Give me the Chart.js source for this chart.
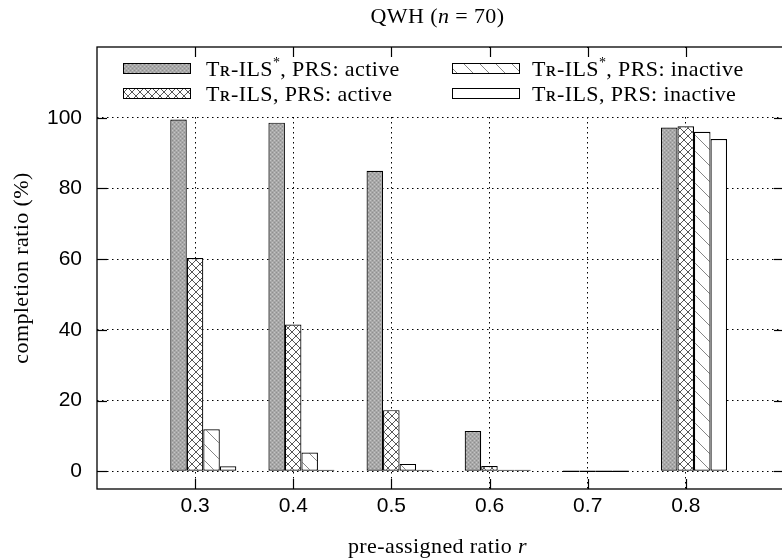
<!DOCTYPE html>
<html>
<head>
<meta charset="utf-8">
<script src="https://cdn.jsdelivr.net/npm/chart.js@4.4.0/dist/chart.umd.min.js"></script>
<style>
html, body { margin: 0; padding: 0; background: #fff; overflow: hidden; }
</style>
</head>
<body>
<canvas id="myChart" width="800" height="559"></canvas>
<script>
var ratios = [0.3, 0.4, 0.5, 0.6, 0.7, 0.8];
var xTicks = [0.3, 0.4, 0.5, 0.6, 0.7, 0.8];
var yTicks = [0, 20, 40, 60, 80, 100];
var seriesLabels = ['Tʀ-ILS*, PRS: active', 'Tʀ-ILS, PRS: active', 'Tʀ-ILS*, PRS: inactive', 'Tʀ-ILS, PRS: inactive'];
var starActive = [99.5, 98.6, 85.0, 11.4, 0, 97.2];
var plainActive = [60.3, 41.5, 17.3, 1.5, 0, 97.6];
var starInactive = [11.9, 5.3, 2.1, 0.3, 0, 96.0];
var plainInactive = [1.4, 0.3, 0.2, 0.1, 0, 94.0];

var SERIF = '"Liberation Serif", "DejaVu Serif", serif';
var SANS = '"Liberation Sans", Arial, sans-serif';
var barShift = 0.0083; // 2nd bar of each group sits on the tick

var ctx = document.getElementById('myChart').getContext('2d');

function makePattern(size, draw) {
	var c = document.createElement('canvas');
	c.width = size; c.height = size;
	var g = c.getContext('2d');
	g.fillStyle = '#fff';
	g.fillRect(0, 0, size, size);
	draw(g, size);
	return ctx.createPattern(c, 'repeat');
}
var grayFill = makePattern(4, function(g) {
	g.fillStyle = '#a8a8a8'; g.fillRect(0, 0, 4, 4);
	g.fillStyle = '#8e8e8e'; g.fillRect(0, 0, 1, 1); g.fillRect(2, 2, 1, 1);
	g.fillStyle = '#c4c4c4'; g.fillRect(2, 0, 1, 1); g.fillRect(0, 2, 1, 1);
});
var crossFill = makePattern(8, function(g) {
	g.strokeStyle = '#444'; g.lineWidth = 0.9;
	g.beginPath();
	g.moveTo(-1, -1); g.lineTo(9, 9);
	g.moveTo(9, -1); g.lineTo(-1, 9);
	g.stroke();
});
var diagFill = makePattern(16, function(g) {
	g.strokeStyle = '#777'; g.lineWidth = 0.9;
	g.beginPath(); g.moveTo(-1, -1); g.lineTo(17, 17); g.stroke();
});
var fills = [grayFill, crossFill, diagFill, '#ffffff'];
var series = [starActive, plainActive, starInactive, plainInactive];

var datasets = [];
for (var k = 0; k < series.length; k++) {
	var pts = [];
	for (var i = 0; i < ratios.length; i++) {
		pts.push({x: ratios[i], y: series[k][i]});
	}
	datasets.push({
		label: seriesLabels[k],
		data: pts,
		backgroundColor: fills[k],
		borderColor: '#000',
		borderWidth: 1.2,
		borderSkipped: false,
		minBarLength: 1.5,
		xAxisID: 'xb',
		categoryPercentage: 0.673,
		barPercentage: 1.0
	});
}

function drawRich(c, parts, x, y, align) {
	var total = 0;
	c.letterSpacing = '0.4px';
	parts.forEach(function(p) { c.font = p.font; p.w = c.measureText(p.t).width; total += p.w; });
	var cx = align === 'center' ? x - total / 2 : x;
	c.textAlign = 'left';
	parts.forEach(function(p) { c.font = p.font; c.fillText(p.t, cx, y + (p.dy || 0)); cx += p.w; });
	c.letterSpacing = '0px';
}

function labelParts(label) {
	var f = '22px ' + SERIF;
	var idx = label.indexOf('*');
	if (idx < 0) return [{t: label, font: f}];
	return [
		{t: label.slice(0, idx), font: f},
		{t: '*', font: '14px ' + SERIF, dy: -7},
		{t: label.slice(idx + 1), font: f}
	];
}

function line(c, x1, y1, x2, y2) {
	c.beginPath(); c.moveTo(x1, y1); c.lineTo(x2, y2); c.stroke();
}

var framePlugin = {
	id: 'frame',
	afterDatasetsDraw: function(chart) {
		var c = chart.ctx, a = chart.chartArea;
		c.save();
		c.fillStyle = '#fff';
		c.fillRect(a.left + 1, a.top + 1, a.right - a.left - 2, 113 - a.top);
		// legend, column-wise order
		var order = [[0, 123, 68], [2, 452, 68], [1, 123, 93], [3, 452, 93]];
		order.forEach(function(o) {
			var ds = chart.data.datasets[o[0]];
			c.fillStyle = ds.backgroundColor;
			c.fillRect(o[1], o[2] - 5, 67, 10);
			c.strokeStyle = '#000'; c.lineWidth = 1;
			c.strokeRect(o[1] + 0.5, o[2] - 5 + 0.5, 67, 10);
			c.fillStyle = '#000';
			c.textBaseline = 'middle';
			drawRich(c, labelParts(ds.label), o[1] + (o[1] > 300 ? 80 : 83), o[2] + 2, 'left');
		});
		c.restore();
	},
	afterDraw: function(chart) {
		var c = chart.ctx, a = chart.chartArea;
		var ys = chart.scales.y, xs = chart.scales.x;
		c.save();
		c.strokeStyle = '#000';
		c.lineWidth = 1.3;
		c.strokeRect(a.left, a.top, a.right - a.left, a.bottom - a.top);
		c.lineWidth = 1.2;
		yTicks.forEach(function(v) {
			var p = Math.round(ys.getPixelForValue(v)) + 0.5;
			line(c, a.left, p, a.left + 10, p);
			line(c, a.right, p, a.right - 10, p);
		});
		xTicks.forEach(function(v) {
			var p = Math.round(xs.getPixelForValue(v)) + 0.5;
			line(c, p, a.bottom, p, a.bottom - 10);
			line(c, p, a.top, p, a.top + 10);
		});
		// titles
		c.fillStyle = '#000';
		c.textBaseline = 'middle';
		var mid = (a.left + a.right) / 2 - 3;
		drawRich(c, [
			{t: 'QWH (', font: '22px ' + SERIF},
			{t: 'n', font: 'italic 22px ' + SERIF},
			{t: ' = 70)', font: '22px ' + SERIF}
		], mid, 17, 'center');
		drawRich(c, [
			{t: 'pre-assigned ratio ', font: '22px ' + SERIF},
			{t: 'r', font: 'italic 22px ' + SERIF}
		], mid, 547, 'center');
		c.translate(22, (a.top + a.bottom) / 2);
		c.rotate(-Math.PI / 2);
		drawRich(c, [{t: 'completion ratio (%)', font: '22px ' + SERIF}], 0, 0, 'center');
		c.restore();
	}
};

var myBarChart = new Chart(ctx, {
	type: 'bar',
	data: { datasets: datasets },
	plugins: [framePlugin],
	options: {
		responsive: false,
		animation: false,
		layout: { padding: { top: 47, right: 16, left: 0, bottom: 0 } },
		plugins: {
			legend: { display: false },
			tooltip: { enabled: false }
		},
		scales: {
			xb: {
				type: 'linear',
				display: false,
				offset: false,
				grid: { offset: false },
				min: 0.2 - barShift,
				max: 0.9 - barShift,
				afterBuildTicks: function(s) { s.ticks = ratios.map(function(v) { return {value: v}; }); }
			},
			x: {
				type: 'linear',
				position: 'bottom',
				offset: false,
				min: 0.2,
				max: 0.9,
				afterBuildTicks: function(s) { s.ticks = xTicks.map(function(v) { return {value: v}; }); },
				afterFit: function(s) { s.height = 70; },
				ticks: {
					callback: function(v) { return v.toFixed(1); },
					font: { family: SANS, size: 21 },
					color: '#000',
					padding: 5,
					maxRotation: 0,
					autoSkip: false
				},
				grid: { color: '#000', lineWidth: 1, drawTicks: false, offset: false },
				border: { display: false, dash: [1.5, 3.5] }
			},
			y: {
				min: -5,
				max: 120,
				afterBuildTicks: function(s) { s.ticks = yTicks.map(function(v) { return {value: v}; }); },
				afterFit: function(s) { s.width = 97; },
				ticks: {
					font: { family: SANS, size: 21 },
					color: '#000',
					padding: 15
				},
				grid: { color: '#000', lineWidth: 1, drawTicks: false },
				border: { display: false, dash: [1.5, 3.5] }
			}
		}
	}
});
</script>
</body>
</html>
